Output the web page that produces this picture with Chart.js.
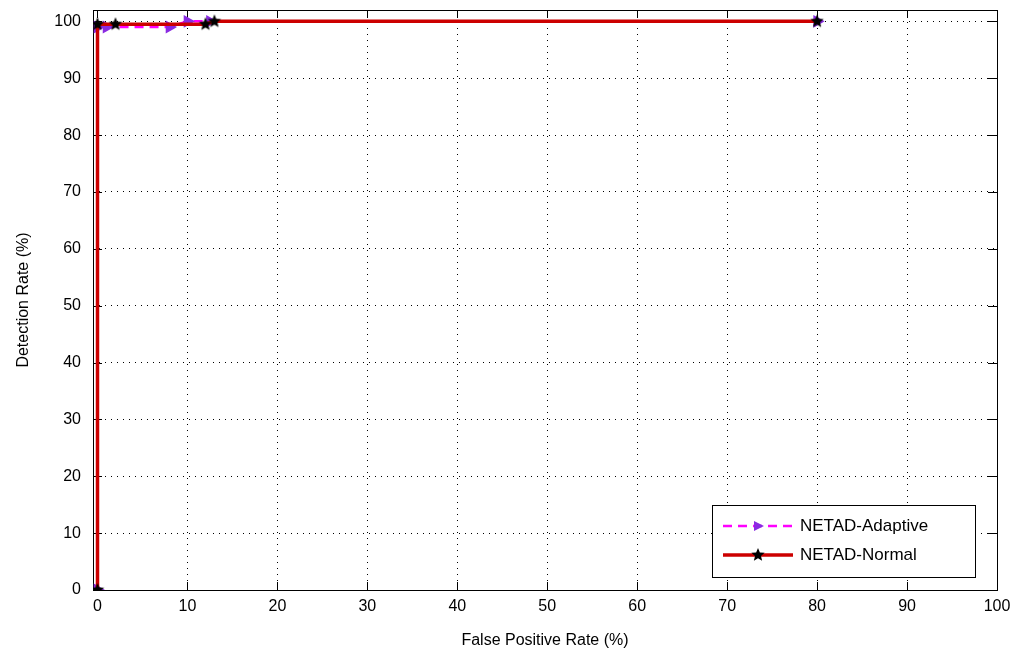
<!DOCTYPE html>
<html>
<head>
<meta charset="utf-8">
<script src="https://cdn.jsdelivr.net/npm/chart.js@4/dist/chart.umd.min.js"></script>
<style>
  html, body { margin: 0; padding: 0; background: #fff; }
  #wrap { width: 1019px; height: 654px; }
</style>
</head>
<body>
<div id="wrap"><canvas id="roc" width="1019" height="654"></canvas></div>
<script>
// values
var adaptiveFpr = [0, 0, 1, 8, 10, 12.5, 80];
var adaptiveDr  = [0, 99, 99, 99, 100, 100, 100];
var normalFpr = [0, 0, 2, 12, 13, 80];
var normalDr  = [0, 99.5, 99.5, 99.5, 100, 100];
var xTicks = [0, 10, 20, 30, 40, 50, 60, 70, 80, 90, 100];
var yTicks = [0, 10, 20, 30, 40, 50, 60, 70, 80, 90, 100];

function toPoints(xs, ys) {
    var pts = [];
    for (var i = 0; i < xs.length; i++) pts.push({ x: xs[i], y: ys[i] });
    return pts;
}

// filled pentagram like matlab's 'p' marker
function makeStar(r) {
    var c = document.createElement('canvas');
    c.width = r * 2 + 2; c.height = r * 2 + 2;
    var g = c.getContext('2d');
    g.fillStyle = '#000';
    g.beginPath();
    for (var i = 0; i < 10; i++) {
        var rad = (i % 2 == 0) ? r : r * 0.45;
        var a = -Math.PI / 2 + i * Math.PI / 5;
        var px = r + 1 + rad * Math.cos(a), py = r + 1 + rad * Math.sin(a);
        if (i == 0) g.moveTo(px, py); else g.lineTo(px, py);
    }
    g.closePath();
    g.fill();
    return c;
}
var starImg = makeStar(7);

var L = 93, R = 997, T = 10, B = 590;

var frame = {
    id: 'frame',
    beforeDatasetsDraw: function (chart) {
        var ctx = chart.ctx, a = chart.chartArea;
        var xs = chart.scales.x, ys = chart.scales.y;
        ctx.save();
        ctx.strokeStyle = '#000';
        ctx.lineWidth = 1;
        // inward ticks
        ctx.beginPath();
        xTicks.forEach(function (v) {
            var px = Math.round(xs.getPixelForValue(v)) + 0.5;
            ctx.moveTo(px, a.bottom); ctx.lineTo(px, a.bottom - 8);
            ctx.moveTo(px, a.top); ctx.lineTo(px, a.top + 8);
        });
        yTicks.forEach(function (v) {
            var py = Math.round(ys.getPixelForValue(v)) + 0.5;
            ctx.moveTo(a.left, py); ctx.lineTo(a.left + 9, py);
            ctx.moveTo(a.right, py); ctx.lineTo(a.right - 9, py);
        });
        ctx.stroke();
        ctx.strokeRect(Math.round(a.left) + 0.5, Math.round(a.top) + 0.5,
            Math.round(a.right - a.left), Math.round(a.bottom - a.top));
        ctx.restore();
    },
    afterDraw: function (chart) {
        var ctx = chart.ctx;
        ctx.save();
        ctx.strokeStyle = '#000';
        ctx.lineWidth = 1;
        // legend box
        var bx = 712, by = 505, bw = 263, bh = 72;
        ctx.fillStyle = '#fff';
        ctx.fillRect(bx, by, bw, bh);
        ctx.strokeRect(bx + 0.5, by + 0.5, bw, bh);
        var ds = chart.data.datasets;
        var rows = [526, 555];
        ctx.font = '17px "Liberation Sans", Arial, sans-serif';
        ctx.textBaseline = 'middle';
        for (var i = 0; i < ds.length; i++) {
            var y = rows[i];
            ctx.strokeStyle = ds[i].borderColor;
            ctx.lineWidth = ds[i].borderWidth;
            ctx.setLineDash(ds[i].borderDash || []);
            ctx.beginPath();
            ctx.moveTo(723, y); ctx.lineTo(793, y);
            ctx.stroke();
            ctx.setLineDash([]);
            if (ds[i].pointStyle == 'triangle') {
                ctx.fillStyle = ds[i].pointBackgroundColor;
                ctx.beginPath();
                ctx.moveTo(764, y); ctx.lineTo(754, y - 5); ctx.lineTo(754, y + 5);
                ctx.closePath(); ctx.fill();
            } else {
                ctx.drawImage(starImg, 758 - 8, y - 8);
            }
            ctx.fillStyle = '#000';
            ctx.fillText(ds[i].label, 800, y);
        }
        ctx.restore();
    }
};

new Chart(document.getElementById('roc'), {
    type: 'line',
    data: {
        datasets: [{
            label: 'NETAD-Adaptive',
            data: toPoints(adaptiveFpr, adaptiveDr),
            borderColor: '#ff00ff',
            borderWidth: 2.5,
            borderDash: [9, 6],
            pointStyle: 'triangle',
            rotation: 90,
            pointRadius: 5,
            pointBackgroundColor: '#8a2be2',
            pointBorderColor: '#8a2be2',
            order: 2
        }, {
            label: 'NETAD-Normal',
            data: toPoints(normalFpr, normalDr),
            borderColor: '#cc0000',
            borderWidth: 3.5,
            pointStyle: starImg,
            order: 1
        }]
    },
    options: {
        responsive: false,
        animation: false,
        layout: { padding: { top: T, right: 1019 - R, left: 0, bottom: 0 } },
        plugins: { legend: { display: false }, tooltip: { enabled: false } },
        scales: {
            x: {
                type: 'linear', min: -0.5, max: 100,
                afterFit: function (s) { s.height = 654 - B; s.paddingLeft = 0; s.paddingRight = 0; },
                afterBuildTicks: function (s) { s.ticks = xTicks.map(function (v) { return { value: v }; }); },
                ticks: { color: '#000', padding: 7, font: { size: 16, family: '"Liberation Sans", Arial' }, maxRotation: 0 },
                grid: { color: '#000', lineWidth: 1, drawTicks: false },
                border: { display: false, dash: [1, 5] },
                title: { display: true, text: 'False Positive Rate (%)', color: '#000', font: { size: 16, family: '"Liberation Sans", Arial' }, padding: { top: 6 } }
            },
            y: {
                type: 'linear', min: 0, max: 102,
                afterFit: function (s) { s.width = L; s.paddingTop = 0; s.paddingBottom = 0; },
                afterBuildTicks: function (s) { s.ticks = yTicks.map(function (v) { return { value: v }; }); },
                ticks: { color: '#000', padding: 12, font: { size: 16, family: '"Liberation Sans", Arial' } },
                grid: { color: '#000', lineWidth: 1, drawTicks: false },
                border: { display: false, dash: [1, 5] },
                title: { display: true, text: 'Detection Rate (%)', color: '#000', font: { size: 16, family: '"Liberation Sans", Arial' }, padding: { top: 14, bottom: 2 } }
            }
        }
    },
    plugins: [frame]
});
</script>
</body>
</html>
